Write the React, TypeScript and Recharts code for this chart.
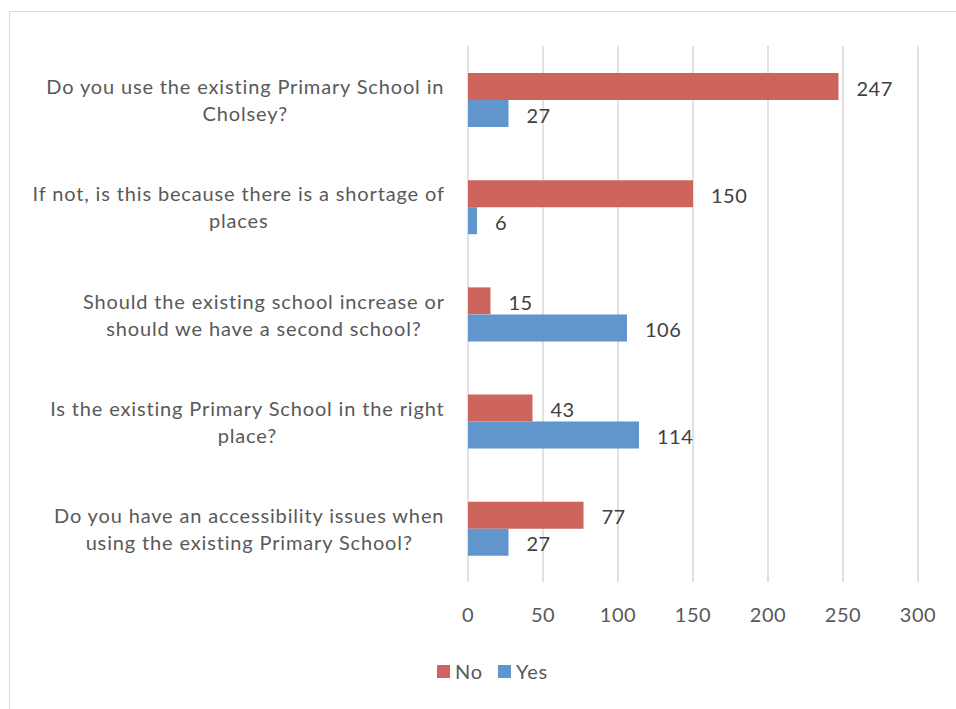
import React from 'react';
import {
  BarChart,
  Bar,
  XAxis,
  YAxis,
  CartesianGrid,
  Legend,
  LabelList
} from 'recharts';

const questionLines: string[][] = [
  ['Do you use the existing Primary School in', 'Cholsey?'],
  ['If not, is this because there is a shortage of', 'places'],
  ['Should the existing school increase or', 'should we have a second school?'],
  ['Is the existing Primary School in the right', 'place?'],
  ['Do you have an accessibility issues when', 'using the existing Primary School?']
];
const noValues = [247, 150, 15, 43, 77];
const yesValues = [27, 6, 106, 114, 27];
const xTicks = [0, 50, 100, 150, 200, 250, 300];

const RED = '#CD655C';
const BLUE = '#6096CC';
const FONT = 'Lato, "Open Sans", sans-serif';
const LABEL_SIZE = 20;
const SPACING = 0.85;

const data = questionLines.map((lines, i) => ({
  question: lines.join(' '),
  No: noValues[i],
  Yes: yesValues[i],
}));

// measure text so each two-line label block ends at the same right edge
let ctx: CanvasRenderingContext2D | null = null;
const textWidth = (s: string) => {
  if (!ctx) ctx = document.createElement('canvas').getContext('2d');
  if (!ctx) return s.length * 10;
  ctx.font = `${LABEL_SIZE}px Lato`;
  return ctx.measureText(s).width + SPACING * s.length;
};

const QuestionTick = ({ y, index }: any) => {
  const lines = questionLines[index] || [];
  const widest = Math.max(...lines.map(textWidth));
  const cx = 445 - widest / 2;
  return (
    <text y={y} textAnchor="middle" fill="#595959" fontSize={LABEL_SIZE} fontFamily={FONT} letterSpacing={SPACING}>
      {lines.map((line, i) => (
        <tspan key={i} x={cx} textAnchor="middle" y={y + (i === 0 ? -13.5 : 13.5)} dominantBaseline="central">
          {line}
        </tspan>
      ))}
    </text>
  );
};

const LegendBox = () => (
  <div style={{ display: 'flex', alignItems: 'center', fontFamily: FONT, fontSize: 20, color: '#595959', letterSpacing: SPACING }}>
    <span style={{ width: 13, height: 13, background: RED, display: 'inline-block', marginRight: 5 }} />
    <span style={{ marginRight: 15 }}>No</span>
    <span style={{ width: 13, height: 13, background: BLUE, display: 'inline-block', marginRight: 5 }} />
    <span>Yes</span>
  </div>
);

const App: React.FC = () => {
  return (
    <div style={{ position: 'absolute', left: 0, top: 0, width: 956, height: 709, overflow: 'hidden', background: '#fff' }}>
      <div style={{ position: 'absolute', left: 9, top: 11, width: 980, height: 720, border: '1px solid #d9d9d9' }} />
      <div style={{ position: 'absolute', left: 0, top: 0 }}>
        <BarChart
          width={956}
          height={709}
          data={data}
          layout="vertical"
          margin={{ top: 46, right: 38, bottom: 10, left: 8 }}
          barGap={0}
        >
          <CartesianGrid horizontal={false} stroke="#d9d9d9" strokeWidth={1.5} />
          <XAxis
            type="number"
            domain={[0, 300]}
            ticks={xTicks}
            axisLine={false}
            tickLine={false}
            height={57}
            tick={{ fill: '#595959', fontSize: 20, fontFamily: FONT, letterSpacing: 0.5 }}
            tickMargin={20}
            interval={0}
          />
          <YAxis
            type="category"
            dataKey="question"
            width={460}
            axisLine={false}
            tickLine={false}
            tick={<QuestionTick />}
            interval={0}
          />
          <Legend
            verticalAlign="bottom"
            height={60}
            content={<LegendBox />}
            wrapperStyle={{ left: 437, top: 659, width: 'auto' }}
          />
          <Bar dataKey="No" fill={RED} barSize={27} isAnimationActive={false}>
            <LabelList dataKey="No" position="right" offset={18} dy={2} fill="#404040" fontSize={20} fontFamily={FONT} letterSpacing={0.5} />
          </Bar>
          <Bar dataKey="Yes" fill={BLUE} barSize={27} isAnimationActive={false}>
            <LabelList dataKey="Yes" position="right" offset={18} dy={2} fill="#404040" fontSize={20} fontFamily={FONT} letterSpacing={0.5} />
          </Bar>
        </BarChart>
      </div>
    </div>
  );
};

export default App;
